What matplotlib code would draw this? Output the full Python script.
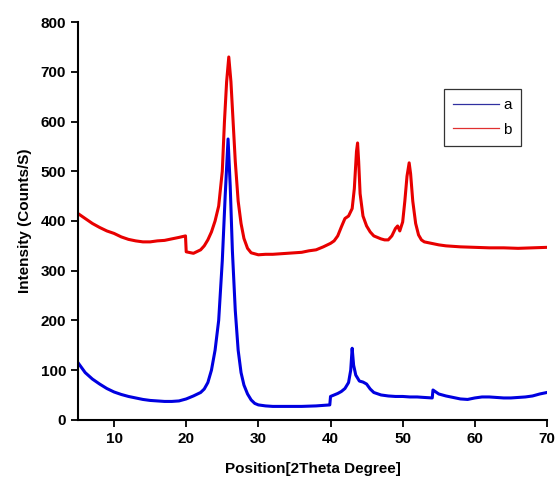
import matplotlib.pyplot as plt
from matplotlib.lines import Line2D

plt.rcParams['font.family'] = ['Liberation Sans', 'DejaVu Sans']

# sample b (red)
b_x = [5, 6, 7, 8, 9, 10, 11, 12, 13, 14, 15, 16, 17, 18, 19, 19.9, 20.0, 21, 22, 22.5,
       23, 23.5, 24, 24.5, 25, 25.3, 25.6, 25.9, 26.2, 26.5, 26.8, 27.2, 27.6, 28, 28.5,
       29, 30, 31, 32, 33, 34, 35, 36, 37, 38, 39, 40, 40.5, 41, 41.5, 42, 42.5, 43,
       43.3, 43.6, 43.75, 43.9, 44.1, 44.5, 45, 45.5, 46, 46.5, 47, 47.5, 48, 48.5, 49,
       49.3, 49.6, 50, 50.3, 50.6, 50.9, 51.1, 51.4, 51.8, 52.2, 52.6, 53, 54, 55, 56,
       58, 60, 62, 64, 66, 68, 70]
b_y = [415, 405, 395, 387, 380, 375, 368, 363, 360, 358, 358, 360, 361, 364, 367, 370, 338, 335, 342, 350,
       362, 378, 400, 430, 500, 600, 680, 730, 680, 600, 520, 440, 395, 365, 345,
       336, 332, 333, 333, 334, 335, 336, 337, 340, 342, 348, 355, 360, 370, 388, 405, 410, 425,
       465, 540, 557, 520, 455, 410, 390, 378, 370, 367, 364, 362, 362, 370, 385,
       390, 380, 398, 440, 490, 517, 495, 440, 395, 372, 362, 358, 355, 352, 350,
       348, 347, 346, 346, 345, 346, 347]

# sample a (blue)
a_x = [5, 6, 7, 8, 9, 10, 11, 12, 13, 14, 15, 16, 17, 18, 19, 20, 21, 22, 22.5, 23,
       23.5, 24, 24.5, 25, 25.4, 25.8, 26.1, 26.4, 26.8, 27.2, 27.6, 28,
       28.5, 29, 29.5, 30, 31, 32, 34, 36, 38, 39.9, 40.0, 40.5, 41, 41.5, 42, 42.5,
       42.8, 43.0, 43.2, 43.5, 44, 44.5, 45, 45.5, 46, 47, 48, 49, 50, 51, 52, 53, 54.1,
       54.2, 55, 56, 57, 58, 59, 60, 61, 62, 63, 64, 65, 66, 67, 68, 69, 70]
a_y = [115, 95, 82, 72, 63, 56, 51, 47, 44, 41, 39, 38, 37, 37, 38, 42, 48, 55, 62, 75,
       100, 140, 200, 320, 450, 565, 470, 340, 220, 140, 95, 70,
       52, 40, 33, 30, 28, 27, 27, 27, 28, 30, 47, 50, 53, 57, 63, 75,
       100, 144, 110, 90, 78, 76, 72, 62, 55, 50, 48, 47, 47, 46, 46, 45, 44,
       60, 52, 48, 45, 42, 41, 44, 46, 46, 45, 44, 44, 45, 46, 48, 52, 55]

fig = plt.figure(figsize=(5.57, 4.82), dpi=100)
ax = fig.add_axes([0.140, 0.129, 0.842, 0.825])

ax.plot(b_x, b_y, color='#e80000', lw=2.2, label='b')
ax.plot(a_x, a_y, color='#0000e0', lw=2.2, label='a')

ax.set_xlim(5, 70)
ax.set_ylim(0, 800)
ax.set_xticks(range(10, 71, 10))
ax.set_yticks(range(0, 801, 100))

for s in ['top', 'right']:
    ax.spines[s].set_visible(False)
for s in ['left', 'bottom']:
    ax.spines[s].set_linewidth(1.5)
ax.tick_params(direction='out', length=5, width=1.3, labelsize=11)
for t in ax.get_xticklabels() + ax.get_yticklabels():
    t.set_fontweight('bold')

ax.set_xlabel('Position[2Theta Degree]', fontsize=11, fontweight='bold', labelpad=12)
ax.set_ylabel('Intensity (Counts/S)', fontsize=11, fontweight='bold', labelpad=6)

# thin legend handles, like the original
h = [Line2D([], [], color='#3030a0', lw=0.9), Line2D([], [], color='#e03030', lw=0.9)]
leg = ax.legend(h, ['a', 'b'], loc='upper left', bbox_to_anchor=(0.78, 0.832),
                borderaxespad=0, fontsize=11, frameon=True, fancybox=False,
                handlelength=3.0, borderpad=0.6, labelspacing=0.7, handletextpad=0.3)
leg.get_frame().set_edgecolor('black')
leg.get_frame().set_linewidth(0.9)

fig.savefig('out.png', dpi=100)
